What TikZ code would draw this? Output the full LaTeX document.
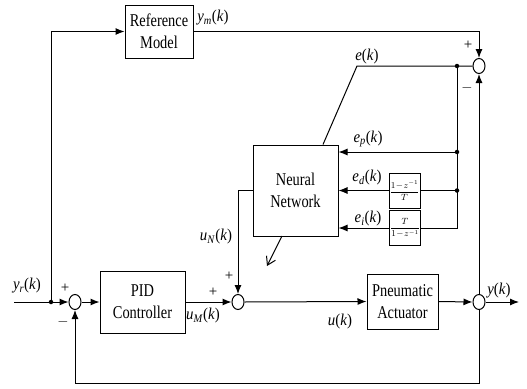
\documentclass[tikz,border=0pt]{standalone}
\usepackage{fontspec}
\setmainfont{Liberation Serif}
\newfontfamily\boxfont{Liberation Serif}[FakeStretch=0.8]
\newfontfamily\lblfont{Liberation Serif}[FakeStretch=0.9]
\usetikzlibrary{shapes.geometric,arrows.meta}
\newcommand{\sig}[2]{\textit{#1}\textsubscript{\textit{#2}}(\textit{k})}
\begin{document}
\begin{tikzpicture}[x=1pt,y=-1pt,
  blk/.style={draw,line width=1pt,inner sep=0pt,align=center,font=\boxfont\fontsize{18}{22}\selectfont},
  sumnode/.style={draw,ellipse,line width=1pt,minimum width=12pt,minimum height=15pt,inner sep=0pt},
  wire/.style={line width=1pt},
  arr/.style={wire,-{Latex[length=9pt,width=7pt]}},
  lbl/.style={font=\lblfont\fontsize{16.5}{17}\selectfont,inner sep=0pt},
  sgn/.style={font=\fontsize{15}{15}\selectfont,inner sep=0pt},
  dot/.style={circle,fill,inner sep=0pt,minimum size=4.5pt},
  fr/.style={draw,line width=1pt,inner sep=0pt,font=\fontsize{9}{10}\selectfont}]
\useasboundingbox (0,0) rectangle (527,388);
% blocks
\node[blk,minimum width=68pt,minimum height=53pt] (ref) at (159,31.5) {Reference\\Model};
\node[blk,minimum width=85pt,minimum height=91pt] (nn) at (295.5,190.5) {Neural\\Network};
\node[fr,minimum width=31pt,minimum height=35pt] (bd) at (404.5,190.5) {$\displaystyle\frac{1\!-\!z^{-1}}{T}$};
\node[fr,minimum width=31pt,minimum height=35pt] (bi) at (405,228) {$\displaystyle\frac{T}{1\!-\!z^{-1}}$};
\node[blk,minimum width=85pt,minimum height=62pt] (pid) at (142.5,302) {PID\\Controller};
\node[blk,minimum width=71pt,minimum height=55pt] (act) at (402.5,301.5) {Pneumatic\\Actuator};
% summing junctions
\node[sumnode] (sTop) at (479,66) {};
\node[sumnode] (sL) at (75,302) {};
\node[sumnode] (sM) at (238,302) {};
\node[sumnode] (sR) at (479,302) {};
% junction dots and free ends
\node[dot] (jE) at (457,66) {};
\node[dot] (jP) at (457,152) {};
\node[dot] (jD) at (457,190.5) {};
\node[dot] (jL) at (51,302) {};
\coordinate (cI) at (457,228);
\coordinate (eBend) at (357,66);
\coordinate (eX) at (323,0);
\coordinate (in) at (14,302);
\coordinate (out) at (519,302);
\coordinate (fb) at (0,383);
\coordinate (la1) at (282,236);
\coordinate (la2) at (267,266);
% connectors
\draw[arr] (ref.east) -| (sTop.north);
\draw[wire] (sTop.west) -- (eBend) -- (nn.north -| eX);
\draw[wire] (jE) -- (cI) -- (bi.east);
\draw[arr] (jP) -- (nn.east |- jP);
\draw[wire] (jD) -- (bd.east);
\draw[arr] (bd.west) -- (nn.east |- bd.west);
\draw[arr] (bi.west) -- (nn.east |- bi.west);
\draw[arr] (nn.west) -| (sM.north);
\draw[wire] (in) -- (jL);
\draw[arr] (jL) -- (sL.west);
\draw[arr] (jL) |- (ref.west);
\draw[arr] (sL.east) -- (pid.west);
\draw[arr] (pid.east) -- (sM.west);
\draw[arr] (sM.east) -- (act.west);
\draw[arr] (act.east) -- (sR.west);
\draw[arr] (sR.east) -- (out);
\draw[arr] (sR.north) -- (sTop.south);
\draw[arr] (sR.south) -- (sR.south |- fb) -| (sL.south);
\draw[wire,-{Straight Barb[length=8pt,width=10pt]}] (la1) -- (la2);
% labels
\node[lbl] (lym) at (213,18) {\sig{y}{m}};
\node[lbl] (le) at (367,57) {\textit{e}(\textit{k})};
\node[lbl] (lep) at (368,139) {\sig{e}{p}};
\node[lbl] (led) at (367,178) {\sig{e}{d}};
\node[lbl] (lei) at (368,219) {\sig{e}{i}};
\node[lbl] (lun) at (216,237) {\sig{u}{N}};
\node[lbl] (lum) at (203,316) {\sig{u}{M}};
\node[lbl] (lu) at (340,322) {\textit{u}(\textit{k})};
\node[lbl] (ly) at (499,291) {\textit{y}(\textit{k})};
\node[lbl] (lyr) at (27,286) {\sig{y}{r}};
\node[sgn] (p1) at (229,276) {+};
\node[sgn] (p2) at (213,292) {+};
\node[sgn] (p3) at (65,288) {+};
\node[sgn] (m1) at (63,322) {$-$};
\node[sgn] (p4) at (468,45) {+};
\node[sgn] (m2) at (467,88) {$-$};
\end{tikzpicture}
\end{document}
